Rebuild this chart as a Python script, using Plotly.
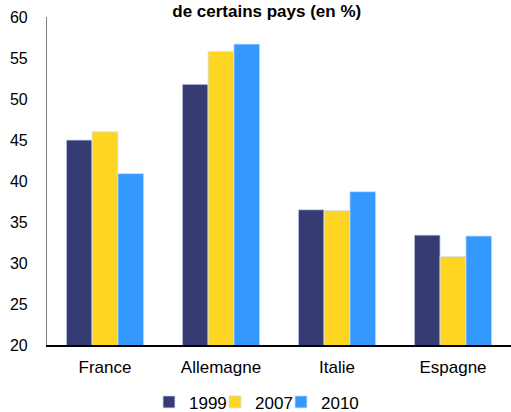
import plotly.graph_objects as go

categories = ["France", "Allemagne", "Italie", "Espagne"]
series_names = ["1999", "2007", "2010"]
v1999 = [45.0, 51.8, 36.5, 33.4]
v2007 = [46.0, 55.8, 36.4, 30.8]
v2010 = [40.9, 56.7, 38.7, 33.3]
colors = ["#363b73", "#fed523", "#3399ff"]
y_ticks = [20, 25, 30, 35, 40, 45, 50, 55, 60]

legend_ids = ["legend", "legend2", "legend3"]
legend_x = [0.2198, 0.3621, 0.5043]

fig = go.Figure()
for name, vals, col, lid in zip(series_names, [v1999, v2007, v2010], colors, legend_ids):
    fig.add_trace(go.Bar(
        x=categories, y=vals, name=name, legend=lid,
        marker=dict(color=col, line=dict(color="#d6e2f5", width=0.8)),
    ))

FONT = "Liberation Sans, Arial, sans-serif"

def leg(xpos):
    return dict(orientation="h", x=xpos, xanchor="left", y=-0.12, yanchor="top",
                yref="paper", font=dict(family=FONT, size=17, color="#000000"),
                itemwidth=30, bgcolor="rgba(0,0,0,0)", borderwidth=0)

fig.update_layout(
    width=511, height=412,
    margin=dict(l=47, r=0, t=17, b=67, autoexpand=False),
    paper_bgcolor="white", plot_bgcolor="white",
    barmode="group", bargap=0.333, bargroupgap=0,
    font=dict(family=FONT, color="#000000"),
    title=dict(text="<b>de certains pays (en %)</b>", x=0.522, xanchor="center",
               y=0.973, yanchor="middle", yref="container",
               font=dict(family=FONT, size=17, color="#000000")),
    showlegend=True,
    legend=leg(legend_x[0]),
    legend2=leg(legend_x[1]),
    legend3=leg(legend_x[2]),
    xaxis=dict(showline=True, linecolor="#000000", linewidth=1.5, ticks="",
               tickfont=dict(family=FONT, size=17, color="#000000"),
               ticklabelstandoff=6, showgrid=False, zeroline=False),
    yaxis=dict(range=[20, 60], tickvals=y_ticks, showline=True, linecolor="#808080",
               linewidth=1.2, ticks="", showgrid=False, zeroline=False,
               tickfont=dict(family=FONT, size=16, color="#000000"),
               ticklabelstandoff=15),
)

fig.write_html("out.html",
               config={"displayModeBar": False},
               post_script="document.body.style.margin='0';document.body.style.overflow='hidden';")
